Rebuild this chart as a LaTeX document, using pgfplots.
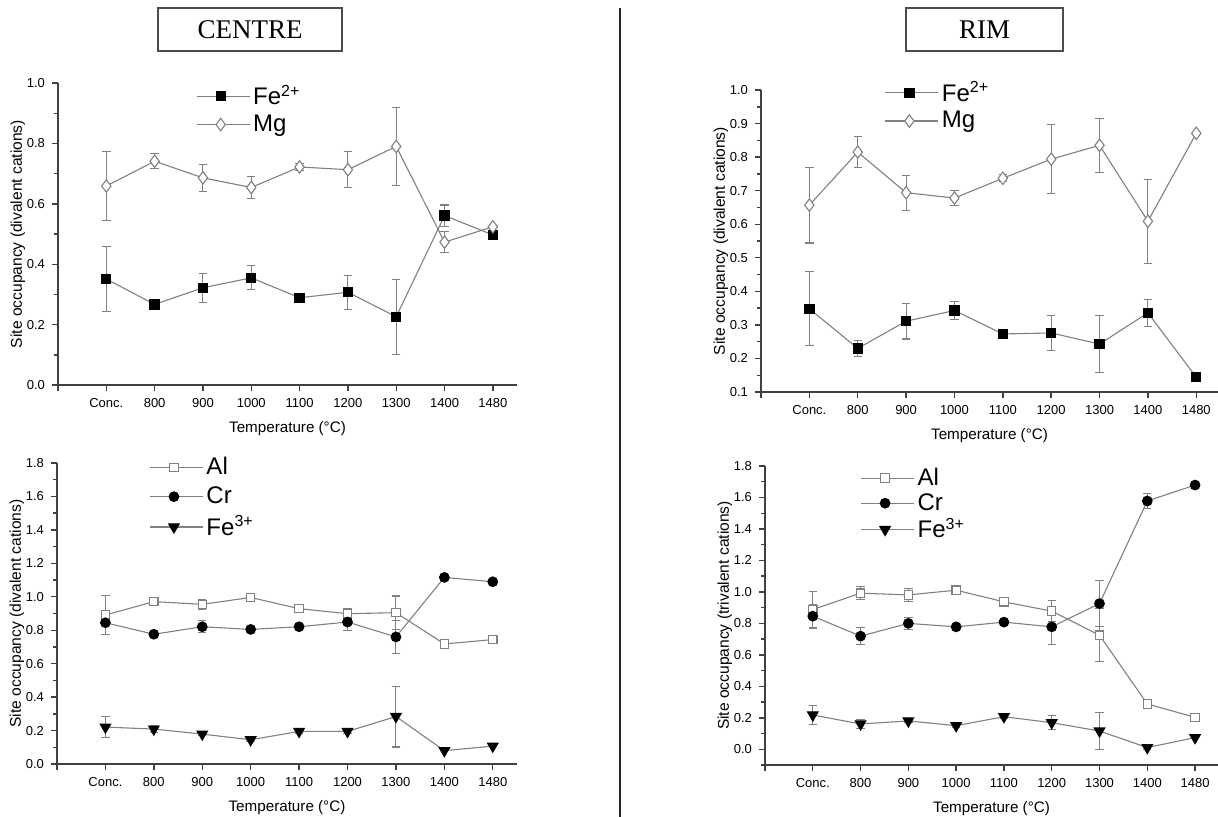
\documentclass[border=0pt]{standalone}
\usepackage{fontspec}
\setmainfont{Liberation Sans}
\newfontfamily\seriffont{Liberation Serif}
\usepackage{pgfplots}
\usepackage{pgfplotstable}
\pgfplotsset{compat=1.18}

% ---------- data (x index: 0=Conc., 1=800, ..., 8=1480) ----------
\pgfplotstableread{
x y e
0 0.351 0.108
1 0.267 0.015
2 0.322 0.048
3 0.355 0.040
4 0.289 0.008
5 0.307 0.056
6 0.226 0.124
7 0.561 0.035
8 0.497 0
}\cFe
\pgfplotstableread{
x y e
0 0.659 0.113
1 0.741 0.025
2 0.686 0.045
3 0.654 0.036
4 0.722 0.012
5 0.713 0.060
6 0.790 0.130
7 0.473 0.035
8 0.524 0
}\cMg
\pgfplotstableread{
x y e
0 0.891 0.115
1 0.971 0.012
2 0.955 0.030
3 0.996 0.015
4 0.929 0.020
5 0.899 0.030
6 0.905 0.100
7 0.718 0.020
8 0.744 0
}\cAl
\pgfplotstableread{
x y e
0 0.845 0.073
1 0.776 0.010
2 0.821 0.035
3 0.805 0.010
4 0.821 0.010
5 0.849 0.050
6 0.760 0.100
7 1.116 0
8 1.090 0
}\cCr
\pgfplotstableread{
x y e
0 0.221 0.063
1 0.209 0.020
2 0.179 0.010
3 0.145 0.010
4 0.195 0.010
5 0.195 0.010
6 0.284 0.182
7 0.080 0
8 0.107 0
}\cFeT
\pgfplotstableread{
x y e
0 0.348 0.110
1 0.230 0.024
2 0.311 0.053
3 0.343 0.026
4 0.273 0.012
5 0.276 0.052
6 0.243 0.085
7 0.336 0.041
8 0.144 0
}\rFe
\pgfplotstableread{
x y e
0 0.657 0.113
1 0.815 0.046
2 0.694 0.052
3 0.678 0.022
4 0.737 0.010
5 0.794 0.103
6 0.835 0.080
7 0.609 0.125
8 0.871 0
}\rMg
\pgfplotstableread{
x y e
0 0.888 0.117
1 0.992 0.040
2 0.981 0.040
3 1.011 0.020
4 0.937 0.020
5 0.878 0.065
6 0.725 0.170
7 0.288 0.020
8 0.203 0
}\rAl
\pgfplotstableread{
x y e
0 0.846 0.075
1 0.719 0.055
2 0.800 0.040
3 0.778 0.010
4 0.808 0.010
5 0.778 0.110
6 0.926 0.145
7 1.578 0.048
8 1.679 0
}\rCr
\pgfplotstableread{
x y e
0 0.218 0.063
1 0.161 0.030
2 0.180 0.010
3 0.150 0.010
4 0.207 0.010
5 0.169 0.045
6 0.116 0.120
7 0.011 0.010
8 0.074 0
}\rFeT

\definecolor{lg}{RGB}{128,128,128}

\pgfplotsset{
  panel/.style={
    scale only axis, clip=false,
    axis x line=bottom, axis y line=left,
    axis line style={-, line width=0.9pt, black!75},
    tick align=outside,
    xmin=-1,
    xtick={-1,0,...,8},
    xticklabels={,Conc.,800,900,1000,1100,1200,1300,1400,1480},
    minor y tick num=1,
    major tick length=3pt, minor tick length=1.8pt,
    tick style={line width=0.7pt, black!75},
    tick label style={font=\fontsize{6.5}{7.5}\selectfont},
    xlabel style={font=\fontsize{7.6}{9}\selectfont},
    ylabel style={font=\fontsize{7.8}{9}\selectfont},
    ylabel shift=-6pt,
    xlabel={Temperature (°C)},
    yticklabel style={/pgf/number format/fixed, /pgf/number format/precision=1, /pgf/number format/fixed zerofill},
    /pgf/number format/assume math mode=true,
    legend style={draw=none, fill=none, font=\fontsize{12}{14}\selectfont, anchor=north west, row sep=0.5pt, inner sep=0pt, nodes={inner sep=1.5pt}},
    legend cell align=left,
    legend image code/.code={\draw[mark repeat=2,mark phase=2,##1] plot coordinates {(0pt,0pt) (12pt,0pt) (24pt,0pt)}; \path (24pt,0pt) -- (26.5pt,0pt);},
  },
  ser/.style={color=lg, line width=0.55pt,
    error bars/y dir=both, error bars/y explicit,
    error bars/error mark=-,
    error bars/error bar style={lg, line width=0.5pt},
    error bars/error mark options={rotate=90, lg, mark size=2.1pt, line width=0.55pt}},
  feII/.style={ser, mark=square*, mark size=2.3pt, mark options={fill=black, draw=black, solid}},
  mg/.style={ser, mark=diamond*, mark size=3.1pt, mark options={fill=white, draw=lg, solid, line width=0.55pt}},
  al/.style={ser, mark=square*, mark size=2.1pt, mark options={fill=white, draw=lg, solid, line width=0.55pt}},
  cr/.style={ser, mark=*, mark size=2.4pt, mark options={fill=black, draw=black, solid}},
  feIII/.style={ser, mark=triangle*, mark size=3pt, mark options={fill=black, draw=black, solid, rotate=180}},
}

\begin{document}
\begin{tikzpicture}
\useasboundingbox (0,0) rectangle (609pt,-408pt);

% titles and divider
\node[draw=black!70, line width=0.6pt, minimum width=92pt, minimum height=21.5pt, inner sep=0pt,
      font=\seriffont\fontsize{13.5}{15}\selectfont] at (125pt,-14.75pt) {CENTRE};
\node[draw=black!70, line width=0.6pt, minimum width=78.5pt, minimum height=21.5pt, inner sep=0pt,
      font=\seriffont\fontsize{13.5}{15}\selectfont] at (492.25pt,-14.75pt) {RIM};
\draw[line width=1pt, black!85] (310pt,-4pt) -- (310pt,-410pt);

% ---- centre, divalent ----
\begin{axis}[panel, at={(29pt,-192.5pt)}, anchor=south west,
  width=229.5pt, height=151pt, xmax=8.5,
  ymin=0, ymax=1.0, ytick={0,0.2,...,1.0},
  ylabel={Site occupancy (divalent cations)},
  legend style={at={(0.30,1.005)}}]
\addplot[feII] table[x=x,y=y,y error=e] {\cFe};
\addlegendentry{Fe\textsuperscript{2+}}
\addplot[mg] table[x=x,y=y,y error=e] {\cMg};
\addlegendentry{Mg}
\end{axis}

% ---- centre, trivalent ----
\begin{axis}[panel, at={(28.5pt,-382pt)}, anchor=south west,
  width=230pt, height=150.5pt, xmax=8.5,
  ymin=0, ymax=1.8, ytick={0,0.2,...,1.8},
  ylabel={Site occupancy (divalent cations)},
  legend style={at={(0.20,1.03)}, row sep=1.5pt}]
\addplot[al] table[x=x,y=y,y error=e] {\cAl};
\addlegendentry{Al}
\addplot[cr] table[x=x,y=y,y error=e] {\cCr};
\addlegendentry{Cr}
\addplot[feIII] table[x=x,y=y,y error=e] {\cFeT};
\addlegendentry{Fe\textsuperscript{3+}}
\end{axis}

% ---- rim, divalent ----
\begin{axis}[panel, at={(380.5pt,-196pt)}, anchor=south west,
  width=228.5pt, height=151pt, xmax=8.45,
  ymin=0.1, ymax=1.0, ytick={0.1,0.2,...,1.0},
  ylabel={Site occupancy (divalent cations)},
  legend style={at={(0.27,1.04)}}]
\addplot[feII] table[x=x,y=y,y error=e] {\rFe};
\addlegendentry{Fe\textsuperscript{2+}}
\addplot[mg] table[x=x,y=y,y error=e] {\rMg};
\addlegendentry{Mg}
\end{axis}

% ---- rim, trivalent ----
\begin{axis}[panel, at={(382.5pt,-382.5pt)}, anchor=south west,
  width=226.5pt, height=149.5pt, xmax=8.48,
  ymin=-0.1, ymax=1.8, ytick={0,0.2,...,1.8}, minor ytick={-0.1,0.1,0.3,...,1.7},
  ylabel={Site occupancy (trivalent cations)},
  legend style={at={(0.21,1.005)}, row sep=-0.5pt}]
\addplot[al] table[x=x,y=y,y error=e] {\rAl};
\addlegendentry{Al}
\addplot[cr] table[x=x,y=y,y error=e] {\rCr};
\addlegendentry{Cr}
\addplot[feIII] table[x=x,y=y,y error=e] {\rFeT};
\addlegendentry{Fe\textsuperscript{3+}}
\end{axis}
\end{tikzpicture}
\end{document}
